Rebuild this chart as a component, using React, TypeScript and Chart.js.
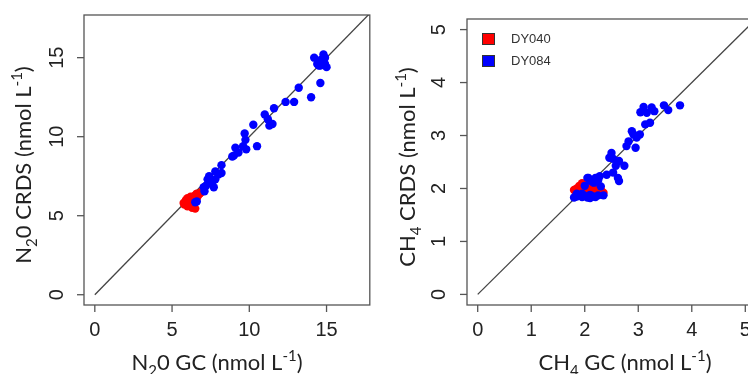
import React, { useEffect, useRef } from 'react';
import { Chart, registerables } from 'chart.js';

Chart.register(...registerables);

// ---------- N2O panel data ----------
const n2oTicks = [0, 5, 10, 15];
const n2oDY040GC = [5.8, 5.9, 6.0, 6.1, 6.2, 6.0, 6.3, 6.4, 6.5, 6.6, 6.8, 6.2, 6.0, 6.3, 6.5, 5.9, 6.1, 6.7, 6.4, 5.75, 6.6, 6.9];
const n2oDY040CRDS = [5.7, 5.8, 5.9, 6.0, 5.7, 5.6, 5.9, 6.2, 6.3, 6.4, 6.4, 6.2, 6.1, 5.5, 5.45, 6.0, 5.75, 6.3, 6.0, 5.8, 6.1, 6.5];
const n2oDY084GC = [14.2, 14.4, 14.5, 14.6, 14.7, 14.8, 14.9, 15.0, 14.6, 14.8, 14.5, 14.9, 14.6, 14.0, 13.2, 12.9, 12.35, 11.6, 11.0, 11.2, 11.3, 11.5, 10.26, 9.7, 9.75, 9.6, 9.8, 10.5, 9.1, 9.3, 8.9, 9.0, 8.2, 8.2, 8.0, 7.8, 7.4, 7.3, 7.8, 7.6, 7.7, 7.2, 7.1, 6.6, 6.5, 7.05];
const n2oDY084CRDS = [15.0, 14.6, 14.8, 14.5, 14.9, 15.2, 14.6, 14.4, 14.7, 14.7, 14.5, 15.0, 13.4, 12.5, 13.1, 12.2, 12.2, 11.8, 11.4, 11.1, 10.7, 10.8, 10.76, 10.2, 9.8, 9.4, 9.2, 9.4, 9.3, 9.0, 8.75, 8.8, 8.2, 7.7, 7.6, 7.8, 7.5, 7.3, 7.3, 7.1, 6.8, 6.9, 6.55, 5.9, 5.85, 6.8];

// ---------- CH4 panel data ----------
const ch4Ticks = [0, 1, 2, 3, 4, 5];
const ch4DY040GC = [1.85, 1.9, 1.95, 2.0, 2.05, 1.9, 2.0, 2.1, 2.2, 2.3, 2.35, 2.25, 2.15, 1.8, 2.0, 2.1, 2.2, 2.3, 1.95, 2.05];
const ch4DY040CRDS = [2.0, 2.05, 2.1, 2.08, 2.12, 1.95, 1.97, 1.97, 1.95, 1.93, 1.92, 2.05, 2.08, 1.97, 2.03, 2.1, 2.0, 1.98, 1.93, 1.95];
const ch4DY084GC = [3.78, 3.56, 3.48, 3.3, 3.25, 3.1, 3.16, 3.04, 3.22, 3.13, 2.88, 2.91, 3.03, 2.97, 2.82, 2.78, 2.95, 2.5, 2.46, 2.53, 2.64, 2.58, 2.74, 2.53, 2.62, 2.64, 2.41, 2.28, 2.22, 2.17, 2.07, 2.3, 2.35, 1.8, 1.85, 1.9, 1.95, 2.0, 2.05, 2.1, 2.15, 2.2, 1.85, 1.95, 2.1, 2.25, 2.0, 2.1, 2.15, 2.2, 2.25, 2.05];
const ch4DY084CRDS = [3.57, 3.48, 3.57, 3.46, 3.53, 3.54, 3.43, 3.44, 3.24, 3.21, 3.08, 3.02, 3.02, 2.96, 2.89, 2.8, 2.77, 2.67, 2.58, 2.56, 2.52, 2.43, 2.43, 2.3, 2.2, 2.14, 2.26, 2.23, 2.17, 2.11, 2.2, 2.04, 1.87, 1.83, 1.85, 1.87, 1.84, 1.86, 1.83, 1.88, 1.85, 1.84, 1.9, 1.9, 1.82, 1.87, 2.05, 2.15, 2.12, 2.2, 2.15, 2.2];

const seriesLabels = ['DY040', 'DY084'];
const seriesColors = ['#ff0000', '#0000ff'];

type Seg = { t: string; s?: 'sub' | 'sup' };

const n2oXTitle: Seg[] = [{ t: 'N' }, { t: '2', s: 'sub' }, { t: '0 GC (nmol L' }, { t: '-1', s: 'sup' }, { t: ')' }];
const n2oYTitle: Seg[] = [{ t: 'N' }, { t: '2', s: 'sub' }, { t: '0 CRDS (nmol L' }, { t: '-1', s: 'sup' }, { t: ')' }];
const ch4XTitle: Seg[] = [{ t: 'CH' }, { t: '4', s: 'sub' }, { t: ' GC (nmol L' }, { t: '-1', s: 'sup' }, { t: ')' }];
const ch4YTitle: Seg[] = [{ t: 'CH' }, { t: '4', s: 'sub' }, { t: ' CRDS (nmol L' }, { t: '-1', s: 'sup' }, { t: ')' }];

const TITLE_FONT = 'Lato, "Open Sans", sans-serif';
const TICK_FONT = '"Liberation Sans", Arial, sans-serif';
const TEXT_COLOR = '#222';
const AXIS_COLOR = '#555';

function drawRich(ctx: CanvasRenderingContext2D, segs: Seg[], cx: number, cy: number, size: number, rotate: boolean) {
  ctx.save();
  ctx.translate(cx, cy);
  if (rotate) ctx.rotate(-Math.PI / 2);
  const fontFor = (s: Seg) => `${s.s ? Math.round(size * 0.68) : size}px ${TITLE_FONT}`;
  let total = 0;
  for (const s of segs) {
    ctx.font = fontFor(s);
    total += ctx.measureText(s.t).width;
  }
  let x = -total / 2;
  ctx.textBaseline = 'alphabetic';
  ctx.textAlign = 'left';
  ctx.fillStyle = TEXT_COLOR;
  const base = size * 0.36;
  for (const s of segs) {
    ctx.font = fontFor(s);
    const dy = s.s === 'sub' ? size * 0.28 : s.s === 'sup' ? -size * 0.42 : 0;
    ctx.fillText(s.t, x, base + dy);
    x += ctx.measureText(s.t).width;
  }
  ctx.restore();
}

type PanelCfg = {
  width: number;
  left: number;
  padding: { left: number; right: number; top: number; bottom: number };
  xMin: number; xMax: number; yMin: number; yMax: number;
  ticks: number[];
  red: { x: number[]; y: number[] };
  blue: { x: number[]; y: number[] };
  xTitle: Seg[]; yTitle: Seg[];
  xTitlePos: [number, number]; yTitlePos: [number, number];
  yTickX: number; xTickY: number;
  legend: boolean;
};

function Panel({ cfg }: { cfg: PanelCfg }) {
  const ref = useRef<HTMLCanvasElement>(null);
  useEffect(() => {
    const canvas = ref.current!;
    const rPlugin = {
      id: 'rstyle',
      beforeDatasetsDraw(chart: any) {
        const ctx: CanvasRenderingContext2D = chart.ctx;
        const a = chart.chartArea;
        ctx.save();
        ctx.strokeStyle = AXIS_COLOR;
        ctx.lineWidth = 1.3;
        ctx.strokeRect(a.left, a.top, a.right - a.left, a.bottom - a.top);
        ctx.restore();
      },
      afterDraw(chart: any) {
        const ctx: CanvasRenderingContext2D = chart.ctx;
        const a = chart.chartArea;
        const xs = chart.scales.x;
        const ys = chart.scales.y;
        ctx.save();
        ctx.strokeStyle = AXIS_COLOR;
        ctx.lineWidth = 1.3;
        ctx.fillStyle = TEXT_COLOR;
        ctx.font = `20px ${TICK_FONT}`;
        ctx.textAlign = 'center';
        ctx.textBaseline = 'middle';
        for (const t of cfg.ticks) {
          const px = xs.getPixelForValue(t);
          ctx.beginPath();
          ctx.moveTo(px, a.bottom);
          ctx.lineTo(px, a.bottom + 7);
          ctx.stroke();
          ctx.fillText(String(t), px, cfg.xTickY);
          const py = ys.getPixelForValue(t);
          ctx.beginPath();
          ctx.moveTo(a.left, py);
          ctx.lineTo(a.left - 7, py);
          ctx.stroke();
          ctx.save();
          ctx.translate(cfg.yTickX, py);
          ctx.rotate(-Math.PI / 2);
          ctx.fillText(String(t), 0, 0);
          ctx.restore();
        }
        ctx.restore();
        drawRich(ctx, cfg.xTitle, cfg.xTitlePos[0], cfg.xTitlePos[1], 22, false);
        drawRich(ctx, cfg.yTitle, cfg.yTitlePos[0], cfg.yTitlePos[1], 22, true);
        if (cfg.legend) {
          ctx.save();
          const items = [0, 1];
          items.forEach((i) => {
            const y = 33 + i * 22;
            ctx.fillStyle = seriesColors[i];
            ctx.fillRect(108, y, 13, 12);
            ctx.strokeStyle = '#333';
            ctx.lineWidth = 1;
            ctx.strokeRect(108.5, y + 0.5, 12, 11);
            ctx.fillStyle = '#333';
            ctx.font = `13px ${TICK_FONT}`;
            ctx.textAlign = 'left';
            ctx.textBaseline = 'middle';
            ctx.fillText(seriesLabels[i], 137, y + 6.5);
          });
          ctx.restore();
        }
      },
    };
    const toPts = (s: { x: number[]; y: number[] }) => s.x.map((v, i) => ({ x: v, y: s.y[i] }));
    const chart = new Chart(canvas, {
      type: 'scatter',
      data: {
        datasets: [
          {
            label: seriesLabels[1],
            data: toPts(cfg.blue),
            backgroundColor: seriesColors[1],
            borderColor: seriesColors[1],
            pointRadius: 4.2,
            borderWidth: 0,
          },
          {
            label: seriesLabels[0],
            data: toPts(cfg.red),
            backgroundColor: seriesColors[0],
            borderColor: seriesColors[0],
            pointRadius: 4.2,
            borderWidth: 0,
          },
          {
            type: 'line',
            label: '1:1',
            data: [{ x: 0, y: 0 }, { x: 100, y: 100 }],
            borderColor: '#444',
            borderWidth: 1.3,
            pointRadius: 0,
            showLine: true,
            clip: 0,
          } as any,
        ],
      },
      options: {
        animation: false,
        responsive: false,
        devicePixelRatio: 1,
        events: [],
        layout: { padding: cfg.padding },
        plugins: { legend: { display: false }, tooltip: { enabled: false } },
        scales: {
          x: { type: 'linear', min: cfg.xMin, max: cfg.xMax, display: false },
          y: { type: 'linear', min: cfg.yMin, max: cfg.yMax, display: false },
        },
      },
      plugins: [rPlugin],
    });
    return () => chart.destroy();
  }, [cfg]);
  return (
    <canvas
      ref={ref}
      width={cfg.width}
      height={374}
      style={{ position: 'absolute', left: cfg.left, top: 0, width: cfg.width, height: 374 }}
    />
  );
}

const n2oCfg: PanelCfg = {
  width: 374,
  left: 0,
  padding: { left: 84, right: 1, top: 15, bottom: 69 },
  xMin: -0.7, xMax: 17.8, yMin: -0.65, yMax: 17.7,
  ticks: n2oTicks,
  red: { x: n2oDY040GC, y: n2oDY040CRDS },
  blue: { x: n2oDY084GC, y: n2oDY084CRDS },
  xTitle: n2oXTitle, yTitle: n2oYTitle,
  xTitlePos: [217, 362], yTitlePos: [23, 165],
  yTickX: 57, xTickY: 330,
  legend: false,
};

const ch4Cfg: PanelCfg = {
  width: 400,
  left: 374,
  padding: { left: 93, right: 18, top: 19, bottom: 69 },
  xMin: -0.2, xMax: 5.2, yMin: -0.2, yMax: 5.2,
  ticks: ch4Ticks,
  red: { x: ch4DY040GC, y: ch4DY040CRDS },
  blue: { x: ch4DY084GC, y: ch4DY084CRDS },
  xTitle: ch4XTitle, yTitle: ch4YTitle,
  xTitlePos: [251, 362], yTitlePos: [33, 167],
  yTickX: 65, xTickY: 330,
  legend: true,
};

export default function App() {
  return (
    <div style={{ position: 'absolute', left: 0, top: 0, width: 748, height: 374, overflow: 'hidden', background: '#fff' }}>
      <Panel cfg={n2oCfg} />
      <Panel cfg={ch4Cfg} />
    </div>
  );
}
